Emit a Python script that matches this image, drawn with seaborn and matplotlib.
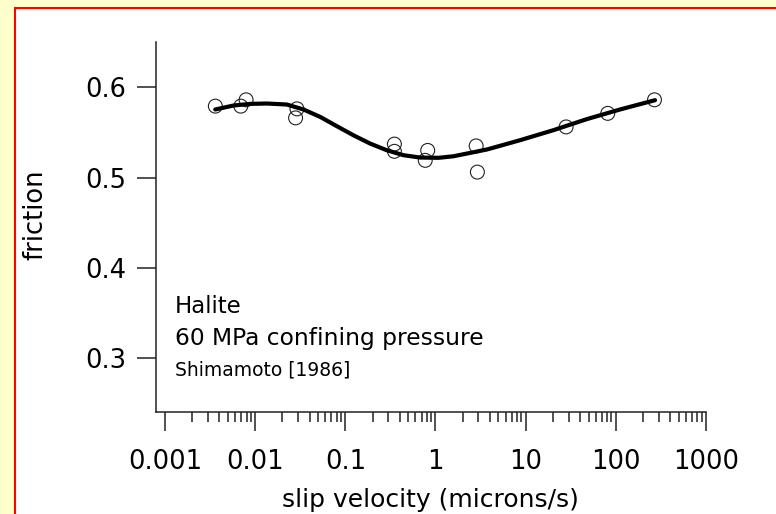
import numpy as np
import matplotlib
matplotlib.use("Agg")
import matplotlib.pyplot as plt
import seaborn as sns
from matplotlib.patches import Rectangle
from matplotlib.ticker import FixedLocator, FixedFormatter, NullFormatter

# ---- data ----
velocity = [0.0036, 0.0069, 0.0079, 0.029, 0.028, 0.35, 0.35, 0.82, 0.77,
            2.83, 2.92, 28.2, 81.8, 270]
friction = [0.579, 0.579, 0.586, 0.576, 0.566, 0.537, 0.529, 0.530, 0.519,
            0.535, 0.506, 0.556, 0.571, 0.586]

fit_velocity = [0.00359, 0.00573, 0.00877, 0.01346, 0.0224, 0.0343, 0.0525,
                0.0804, 0.1227, 0.188, 0.288, 0.441, 0.676, 1.08, 1.58,
                3.72, 8.69, 20.4, 47.8, 112, 274]
fit_friction = [0.5753, 0.5797, 0.5815, 0.5819, 0.5808, 0.5753, 0.5671,
                0.5568, 0.5468, 0.5376, 0.5302, 0.5247, 0.5221, 0.5218,
                0.5235, 0.5310, 0.5413, 0.5524, 0.5646, 0.5753, 0.5856]

xtick_values = [0.001, 0.01, 0.1, 1, 10, 100, 1000]
xtick_labels = ["0.001", "0.01", "0.1", "1", "10", "100", "1000"]
ytick_values = [0.3, 0.4, 0.5, 0.6]
ytick_labels = ["0.3", "0.4", "0.5", "0.6"]

annot_lines = ["Halite", "60 MPa confining pressure", "Shimamoto [1986]"]

# ---- style ----
sns.set_style("ticks")
plt.rcParams["font.family"] = ["DejaVu Sans"]
plt.rcParams["text.color"] = "black"
plt.rcParams["axes.labelcolor"] = "black"

W, H = 776, 514
fig = plt.figure(figsize=(W / 100, H / 100), dpi=100, facecolor="#FFFFCC")

# white panel with red frame (behind the axes)
fig.patches.append(Rectangle((15 / W, -0.1), 1.2, (H - 8) / H + 0.1,
                             transform=fig.transFigure, facecolor="white",
                             edgecolor="red", linewidth=1.5, zorder=-10))

ax = fig.add_axes([155.5 / W, 1 - 411.5 / H, 550.2 / W, 369.5 / H])
ax.set_zorder(5)
ax.patch.set_alpha(0)

sns.scatterplot(x=velocity, y=friction, ax=ax, marker="o", s=100,
                facecolor="none", edgecolor="#222222", linewidth=0.8,
                zorder=2)
sns.lineplot(x=fit_velocity, y=fit_friction, ax=ax, color="black",
             linewidth=3.0, sort=False, zorder=3)

ax.set_xscale("log")
ax.set_xlim(10 ** -3.108, 1000)
ax.set_ylim(0.241, 0.65)

ax.xaxis.set_major_locator(FixedLocator(xtick_values))
ax.xaxis.set_major_formatter(FixedFormatter(xtick_labels))
minor = [m * d for d in xtick_values[:-1] for m in range(2, 10)]
ax.xaxis.set_minor_locator(FixedLocator(minor))
ax.xaxis.set_minor_formatter(NullFormatter())
ax.yaxis.set_major_locator(FixedLocator(ytick_values))
ax.yaxis.set_major_formatter(FixedFormatter(ytick_labels))

ink = "#222222"
for side in ["top", "right"]:
    ax.spines[side].set_visible(False)
for side in ["left", "bottom"]:
    ax.spines[side].set_linewidth(1.1)
    ax.spines[side].set_color(ink)

ax.tick_params(axis="both", which="major", direction="out", length=13.7,
               width=1.1, color=ink, labelsize=18.5, labelcolor="black")
ax.tick_params(axis="x", which="major", pad=13)
ax.tick_params(axis="y", which="major", pad=7.3)
ax.tick_params(axis="x", which="minor", direction="out", length=7,
               width=1.1, color=ink)

ax.set_xlabel("slip velocity (microns/s)", fontsize=18, color="black")
ax.set_ylabel("friction", fontsize=18.5, color="black")
ax.xaxis.set_label_coords(0.5, -0.208)
ax.yaxis.set_label_coords(-0.194, 0.532)

ax.text(0.0354, 0.2666, annot_lines[0], transform=ax.transAxes,
        fontsize=16.5, va="baseline", ha="left", color="black")
ax.text(0.0354, 0.180, annot_lines[1], transform=ax.transAxes,
        fontsize=16.8, va="baseline", ha="left", color="black")
ax.text(0.0354, 0.097, annot_lines[2], transform=ax.transAxes,
        fontsize=13.5, va="baseline", ha="left", color="black")

fig.savefig("out.png", dpi=100, facecolor=fig.get_facecolor())
